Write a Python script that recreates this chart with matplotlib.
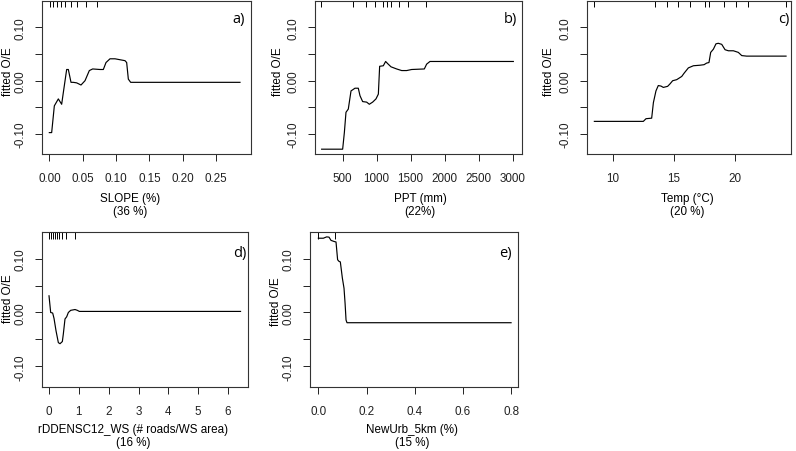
import matplotlib
matplotlib.use("Agg")
import matplotlib.pyplot as plt
import numpy as np

plt.rcParams['font.family'] = ['Liberation Sans', 'DejaVu Sans']

# a) SLOPE
slope_x = [0.0, 0.0035, 0.0075, 0.0135, 0.0185, 0.021, 0.026, 0.0285, 0.0325, 0.036,
           0.041, 0.0475, 0.0535, 0.06, 0.065, 0.076, 0.081, 0.085, 0.091, 0.0985,
           0.1135, 0.116, 0.1185, 0.122, 0.286]
slope_y = [-0.097, -0.097, -0.047, -0.034, -0.044, -0.022, 0.021, 0.021, -0.003, -0.003,
           -0.004, -0.008, 0.0, 0.019, 0.022, 0.021, 0.021, 0.034, 0.041, 0.041,
           0.0375, 0.034, 0.003, -0.003, -0.003]
slope_rug = [0.001, 0.006, 0.012, 0.017, 0.024, 0.0325, 0.042, 0.055, 0.071]

# b) PPT
ppt_x = [191, 500, 525, 549, 583, 623, 647, 681, 730, 755, 794, 853, 892, 941, 990,
         1025, 1044, 1098, 1132, 1162, 1211, 1294, 1368, 1441, 1515, 1701, 1735, 1784, 3010]
ppt_y = [-0.128, -0.128, -0.097, -0.059, -0.053, -0.019, -0.017, -0.014, -0.014, -0.028,
         -0.039, -0.040, -0.044, -0.040, -0.034, -0.025, 0.027, 0.028, 0.036, 0.032,
         0.026, 0.022, 0.019, 0.019, 0.021, 0.022, 0.031, 0.036, 0.036]
ppt_rug = [186, 652, 848, 980, 1093, 1147, 1206, 1324, 1456, 1721]

# c) Temp
temp_x = [8.51, 12.5, 12.72, 13.18, 13.32, 13.53, 13.72, 13.94, 14.13, 14.48, 14.67,
          14.89, 15.22, 15.63, 15.82, 16.17, 16.58, 17.12, 17.45, 17.66, 17.85, 17.99,
          18.21, 18.42, 18.61, 18.89, 19.16, 19.43, 19.84, 20.24, 20.52, 20.92, 24.13]
temp_y = [-0.076, -0.076, -0.071, -0.070, -0.041, -0.019, -0.009, -0.010, -0.0125, -0.0105,
          -0.006, 0.0, 0.002, 0.008, 0.014, 0.024, 0.028, 0.029, 0.030, 0.033, 0.034, 0.053,
          0.059, 0.069, 0.070, 0.068, 0.058, 0.056, 0.056, 0.053, 0.047, 0.046, 0.046]
temp_rug = [8.5, 13.46, 14.44, 15.35, 16.28, 17.5, 17.87, 19.1, 20.04, 21.0, 24.15]

# d) rDDENSC12_WS
road_x = [0.0, 0.056, 0.123, 0.168, 0.235, 0.313, 0.369, 0.447, 0.48, 0.536, 0.592,
          0.648, 0.726, 0.872, 0.95, 1.017, 6.42]
road_y = [0.031, 0.0, -0.001, -0.011, -0.034, -0.056, -0.058, -0.054, -0.040, -0.012,
          -0.008, 0.0, 0.004, 0.0055, 0.004, 0.002, 0.002]
road_rug = [0.01, 0.07, 0.14, 0.21, 0.28, 0.35, 0.44, 0.56, 0.87]

# e) NewUrb_5km
urb_x = [0.0, 0.0208, 0.0346, 0.0443, 0.0526, 0.065, 0.0734, 0.08, 0.0858, 0.0913,
         0.0997, 0.1066, 0.111, 0.115, 0.119, 0.80]
urb_y = [0.138, 0.138, 0.1405, 0.140, 0.134, 0.132, 0.131, 0.098, 0.095, 0.094,
         0.064, 0.045, 0.017, -0.014, -0.019, -0.019]
urb_rug = [0.0, 0.07]

W, H = 796, 452
FS = 8.4


def make_axes(fig, left, right, top, bottom):
    return fig.add_axes([left / W, 1 - bottom / H, (right - left) / W, (bottom - top) / H])


def panel(ax, x, y, rug, xlim, ylim, xticks, xfmt, xlabel, xlab_xy, letter, ylab_xy, letter_dx, letter_y):
    ax.plot(x, y, color='black', lw=0.85)
    ax.vlines(rug, 0.96, 1.0, transform=ax.get_xaxis_transform(), color='black', lw=0.7)
    ax.set_xlim(*xlim)
    ax.set_ylim(*ylim)
    ax.set_xticks(xticks)
    ax.set_xticklabels([xfmt.format(v) for v in xticks])
    yt = [-0.10, -0.05, 0.0, 0.05, 0.10]
    ax.set_yticks(yt)
    ax.set_yticklabels(['-0.10', '', '0.00', '', '0.10'], rotation=90, va='center')
    ax.tick_params(axis='both', direction='out', length=5, width=0.7, labelsize=FS,
                   colors='#222222')
    ax.tick_params(axis='x', pad=8)
    ax.tick_params(axis='y', pad=6)
    for s in ax.spines.values():
        s.set_linewidth(0.8)
        s.set_color('#333333')
    ax.set_xlabel(xlabel, fontsize=FS, linespacing=1.08)
    ax.xaxis.set_label_coords(*xlab_xy)
    ax.set_ylabel('fitted O/E', fontsize=FS)
    ax.yaxis.set_label_coords(*ylab_xy)
    ax.text(1 - letter_dx, letter_y, letter, transform=ax.transAxes, ha='right', va='center',
            fontsize=10.5, family=['Open Sans', 'DejaVu Sans'])


def main():
    fig = plt.figure(figsize=(W / 100, H / 100), dpi=100)

    ax_a = make_axes(fig, 42, 251, 1.5, 155)
    ax_b = make_axes(fig, 314.5, 521.7, 1.5, 155)
    ax_c = make_axes(fig, 587, 790.7, 1.5, 155)
    ax_d = make_axes(fig, 41.7, 248.3, 233.3, 388.3)
    ax_e = make_axes(fig, 310, 518.3, 233.3, 388.3)

    top_ylim = (-0.137, 0.15)
    bot_ylim = (-0.139, 0.149)

    panel(ax_a, slope_x, slope_y, slope_rug, (-0.011, 0.3025), top_ylim,
          [0.0, 0.05, 0.10, 0.15, 0.20, 0.25], '{:.2f}', 'SLOPE (%)\n(36 %)', (0.42, -0.25),
          'a)', (-0.135, 0.54), 0.03, 0.885)
    panel(ax_b, ppt_x, ppt_y, ppt_rug, (86, 3133), top_ylim,
          [500, 1000, 1500, 2000, 2500, 3000], '{:d}', 'PPT (mm)\n(22%)', (0.509, -0.25),
          'b)', (-0.149, 0.54), 0.02, 0.885)
    panel(ax_c, temp_x, temp_y, temp_rug, (7.91, 24.51), top_ylim,
          [10, 15, 20], '{:d}', 'Temp (\u00b0C)\n(20 %)', (0.491, -0.25),
          'c)', (-0.155, 0.54), 0.005, 0.885)
    panel(ax_d, road_x, road_y, road_rug, (-0.245, 6.68), bot_ylim,
          [0, 1, 2, 3, 4, 5, 6], '{:d}', 'rDDENSC12_WS (# roads/WS area)\n(16 %)', (0.442, -0.23),
          'd)', (-0.136, 0.58), 0.01, 0.87)
    panel(ax_e, urb_x, urb_y, urb_rug, (-0.0346, 0.830), bot_ylim,
          [0.0, 0.2, 0.4, 0.6, 0.8], '{:.1f}', 'NewUrb_5km (%)\n(15 %)', (0.49, -0.23),
          'e)', (-0.134, 0.56), 0.03, 0.87)

    fig.savefig('out.png', dpi=100)


if __name__ == "__main__":
    main()
